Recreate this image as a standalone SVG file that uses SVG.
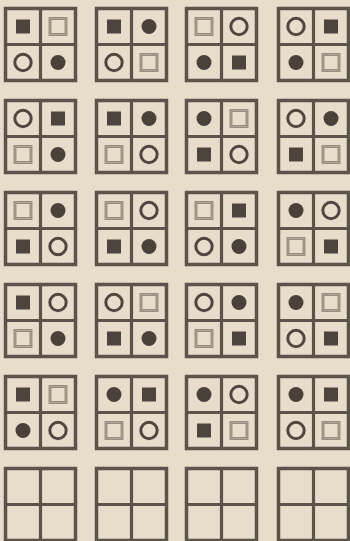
<svg xmlns="http://www.w3.org/2000/svg" xmlns:xlink="http://www.w3.org/1999/xlink" width="350" height="541" viewBox="0 0 350 541">
<style>
.frame{fill:none;stroke:#5c534a;stroke-width:3.5}
.div{stroke:#5c534a;stroke-width:3.2}
</style>
<defs>
<rect id="S" x="-7" y="-7" width="14" height="14" fill="#4d443d"/>
<g id="Q"><rect x="-8" y="-8" width="16" height="16" fill="none" stroke="#8f8478" stroke-width="2.8"/><rect x="-8" y="-8" width="16" height="16" fill="none" stroke="#b8ac9d" stroke-width="0.8"/></g>
<circle id="O" r="8.2" fill="none" stroke="#4f463f" stroke-width="3"/>
<circle id="D" r="7.5" fill="#4a413b"/>
<g id="box"><rect class="frame" x="0" y="0" width="70" height="72"/><line class="div" x1="35" y1="0" x2="35" y2="72"/><line class="div" x1="0" y1="36" x2="70" y2="36"/></g>
</defs>
<rect width="350" height="541" fill="#e8dcca"/>
<!-- row 1 -->
<g id="b11" transform="translate(5.5,8.5)"><use href="#box"/><use href="#S" x="17.5" y="18"/><use href="#Q" x="52.5" y="18"/><use href="#O" x="17.5" y="54"/><use href="#D" x="52.5" y="54"/></g>
<g id="b12" transform="translate(96.5,8.5)"><use href="#box"/><use href="#S" x="17.5" y="18"/><use href="#D" x="52.5" y="18"/><use href="#O" x="17.5" y="54"/><use href="#Q" x="52.5" y="54"/></g>
<g id="b13" transform="translate(186.5,8.5)"><use href="#box"/><use href="#Q" x="17.5" y="18"/><use href="#O" x="52.5" y="18"/><use href="#D" x="17.5" y="54"/><use href="#S" x="52.5" y="54"/></g>
<g id="b14" transform="translate(278.5,8.5)"><use href="#box"/><use href="#O" x="17.5" y="18"/><use href="#S" x="52.5" y="18"/><use href="#D" x="17.5" y="54"/><use href="#Q" x="52.5" y="54"/></g>
<!-- row 2 -->
<g id="b21" transform="translate(5.5,100.5)"><use href="#box"/><use href="#O" x="17.5" y="18"/><use href="#S" x="52.5" y="18"/><use href="#Q" x="17.5" y="54"/><use href="#D" x="52.5" y="54"/></g>
<g id="b22" transform="translate(96.5,100.5)"><use href="#box"/><use href="#S" x="17.5" y="18"/><use href="#D" x="52.5" y="18"/><use href="#Q" x="17.5" y="54"/><use href="#O" x="52.5" y="54"/></g>
<g id="b23" transform="translate(186.5,100.5)"><use href="#box"/><use href="#D" x="17.5" y="18"/><use href="#Q" x="52.5" y="18"/><use href="#S" x="17.5" y="54"/><use href="#O" x="52.5" y="54"/></g>
<g id="b24" transform="translate(278.5,100.5)"><use href="#box"/><use href="#O" x="17.5" y="18"/><use href="#D" x="52.5" y="18"/><use href="#S" x="17.5" y="54"/><use href="#Q" x="52.5" y="54"/></g>
<!-- row 3 -->
<g id="b31" transform="translate(5.5,192.5)"><use href="#box"/><use href="#Q" x="17.5" y="18"/><use href="#D" x="52.5" y="18"/><use href="#S" x="17.5" y="54"/><use href="#O" x="52.5" y="54"/></g>
<g id="b32" transform="translate(96.5,192.5)"><use href="#box"/><use href="#Q" x="17.5" y="18"/><use href="#O" x="52.5" y="18"/><use href="#S" x="17.5" y="54"/><use href="#D" x="52.5" y="54"/></g>
<g id="b33" transform="translate(186.5,192.5)"><use href="#box"/><use href="#Q" x="17.5" y="18"/><use href="#S" x="52.5" y="18"/><use href="#O" x="17.5" y="54"/><use href="#D" x="52.5" y="54"/></g>
<g id="b34" transform="translate(278.5,192.5)"><use href="#box"/><use href="#D" x="17.5" y="18"/><use href="#O" x="52.5" y="18"/><use href="#Q" x="17.5" y="54"/><use href="#S" x="52.5" y="54"/></g>
<!-- row 4 -->
<g id="b41" transform="translate(5.5,284.5)"><use href="#box"/><use href="#S" x="17.5" y="18"/><use href="#O" x="52.5" y="18"/><use href="#Q" x="17.5" y="54"/><use href="#D" x="52.5" y="54"/></g>
<g id="b42" transform="translate(96.5,284.5)"><use href="#box"/><use href="#O" x="17.5" y="18"/><use href="#Q" x="52.5" y="18"/><use href="#S" x="17.5" y="54"/><use href="#D" x="52.5" y="54"/></g>
<g id="b43" transform="translate(186.5,284.5)"><use href="#box"/><use href="#O" x="17.5" y="18"/><use href="#D" x="52.5" y="18"/><use href="#Q" x="17.5" y="54"/><use href="#S" x="52.5" y="54"/></g>
<g id="b44" transform="translate(278.5,284.5)"><use href="#box"/><use href="#D" x="17.5" y="18"/><use href="#Q" x="52.5" y="18"/><use href="#O" x="17.5" y="54"/><use href="#S" x="52.5" y="54"/></g>
<!-- row 5 -->
<g id="b51" transform="translate(5.5,376.5)"><use href="#box"/><use href="#S" x="17.5" y="18"/><use href="#Q" x="52.5" y="18"/><use href="#D" x="17.5" y="54"/><use href="#O" x="52.5" y="54"/></g>
<g id="b52" transform="translate(96.5,376.5)"><use href="#box"/><use href="#D" x="17.5" y="18"/><use href="#S" x="52.5" y="18"/><use href="#Q" x="17.5" y="54"/><use href="#O" x="52.5" y="54"/></g>
<g id="b53" transform="translate(186.5,376.5)"><use href="#box"/><use href="#D" x="17.5" y="18"/><use href="#O" x="52.5" y="18"/><use href="#S" x="17.5" y="54"/><use href="#Q" x="52.5" y="54"/></g>
<g id="b54" transform="translate(278.5,376.5)"><use href="#box"/><use href="#D" x="17.5" y="18"/><use href="#S" x="52.5" y="18"/><use href="#O" x="17.5" y="54"/><use href="#Q" x="52.5" y="54"/></g>
<!-- row 6 -->
<g id="b61" transform="translate(5.5,468.5)"><use href="#box"/></g>
<g id="b62" transform="translate(96.5,468.5)"><use href="#box"/></g>
<g id="b63" transform="translate(186.5,468.5)"><use href="#box"/></g>
<g id="b64" transform="translate(278.5,468.5)"><use href="#box"/></g>
<g id="connectors"/>
</svg>
